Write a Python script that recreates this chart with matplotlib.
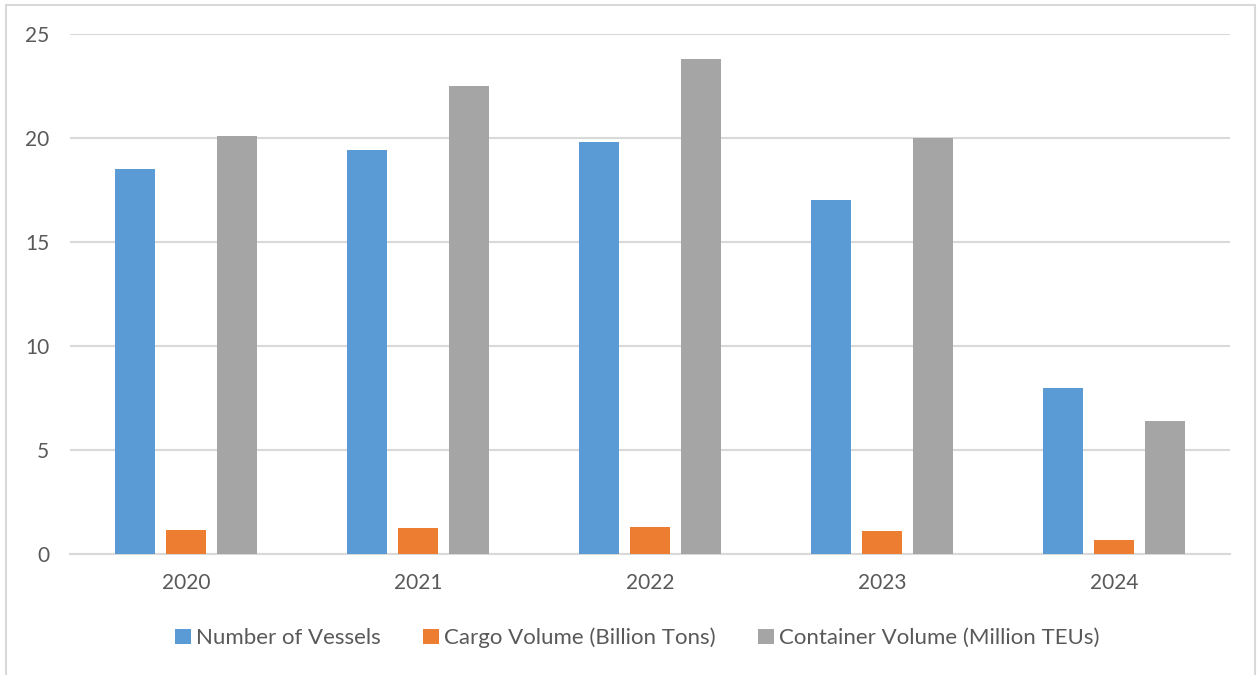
import numpy as np
from matplotlib import pyplot as plt
from matplotlib.patches import Rectangle

years = ["2020", "2021", "2022", "2023", "2024"]
vessels = [18.5, 19.4, 19.8, 17.0, 8.0]
cargo = [1.15, 1.25, 1.3, 1.1, 0.65]
containers = [20.1, 22.5, 23.8, 20.0, 6.4]
series_names = ["Number of Vessels", "Cargo Volume (Billion Tons)", "Container Volume (Million TEUs)"]
colors = ["#5B9BD5", "#ED7D31", "#A5A5A5"]

plt.rcParams['font.family'] = ['Lato', 'DejaVu Sans']
text_color = "#595959"

fig = plt.figure(figsize=(12.6, 6.75), dpi=100)
ax = fig.add_axes([70 / 1260, 1 - 554 / 675, 1160 / 1260, 520 / 675])

# light frame around the chart area
fig.patches.append(Rectangle((6 / 1260, -0.01), 1249 / 1260, 1 - 5 / 675 + 0.01,
                             transform=fig.transFigure, fill=False,
                             edgecolor="#D9D9D9", linewidth=1.5))

x = np.arange(len(years))
width = 0.172
step = 0.22
for i, (vals, name, col) in enumerate(zip([vessels, cargo, containers], series_names, colors)):
    ax.bar(x + (i - 1) * step, vals, width, color=col, label=name, zorder=3)

ax.set_xlim(-0.5, len(years) - 0.5)
ax.set_ylim(0, 25)
ax.set_yticks(range(0, 26, 5))
ax.set_xticks(x)
ax.set_xticklabels(years)
ax.yaxis.grid(True, color="#D9D9D9", linewidth=1.5, zorder=0)
ax.tick_params(axis='both', length=0, labelsize=15, colors=text_color)
ax.tick_params(axis='x', pad=14)
ax.tick_params(axis='y', pad=15)
for side in ["top", "right", "left"]:
    ax.spines[side].set_visible(False)
ax.spines["bottom"].set_color("#D9D9D9")
ax.spines["bottom"].set_linewidth(1.5)

leg = fig.legend(loc="center", bbox_to_anchor=(0.506, 1 - 638 / 675), ncol=3,
                 frameon=False, fontsize=16, handlelength=0.7, handleheight=0.7,
                 handletextpad=0.25, columnspacing=1.9)
for t in leg.get_texts():
    t.set_color(text_color)

fig.savefig("out.png", dpi=100)
